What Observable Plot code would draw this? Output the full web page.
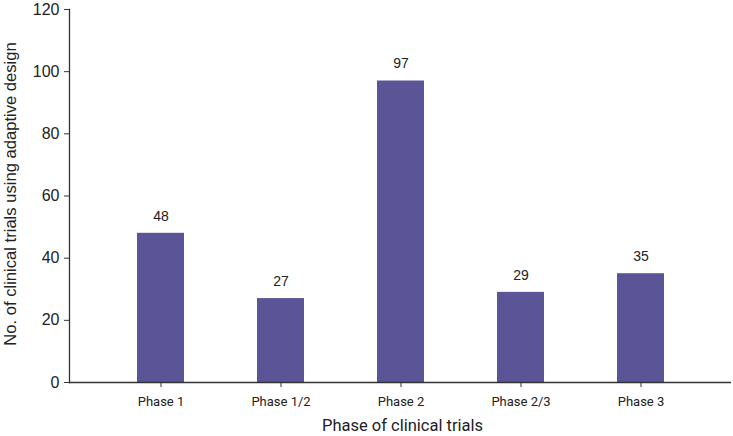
<!DOCTYPE html>
<html>
<head>
<meta charset="utf-8">
<script src="https://cdn.jsdelivr.net/npm/d3@7"></script>
<script src="https://cdn.jsdelivr.net/npm/@observablehq/plot@0.6"></script>
<style>
  html, body { margin: 0; padding: 0; background: #fff; }
  #chart svg { display: block; }
</style>
</head>
<body>
<div id="chart"></div>
<script>
const phases = ["Phase 1", "Phase 1/2", "Phase 2", "Phase 2/3", "Phase 3"];
const counts = [48, 27, 97, 29, 35];
const yTicks = [0, 20, 40, 60, 80, 100, 120];
const xTitle = "Phase of clinical trials";
const yTitle = "No. of clinical trials using adaptive design";

const data = phases.map((p, i) => ({phase: p, count: counts[i]}));

const chart = Plot.plot({
  width: 733,
  height: 436,
  marginTop: 9,
  marginBottom: 54,
  marginLeft: 69,
  marginRight: 2,
  style: {fontFamily: "Liberation Sans, Arial, sans-serif", color: "#222", background: "#fff"},
  x: {domain: phases, paddingInner: 0.61, paddingOuter: 0.56},
  y: {domain: [0, 120]},
  marks: [
    Plot.barY(data, {x: "phase", y: "count", fill: "#5b5597"}),
    Plot.text(data, {x: "phase", y: "count", text: d => String(d.count), dy: -17, fontSize: 14, fill: "#222"}),
    Plot.ruleY([0], {stroke: "#333", strokeWidth: 1.3}),
    Plot.frame({anchor: "left", stroke: "#333", strokeWidth: 1.3}),
    Plot.axisY({ticks: yTicks, tickSize: 5, tickPadding: 5, fontSize: 16, stroke: "#333", label: null}),
    Plot.axisX({tickSize: 5, tickPadding: 9, fontSize: 13, fontFamily: "Roboto, sans-serif", stroke: "#333", label: null}),
    Plot.text([yTitle], {frameAnchor: "left", textAnchor: "middle", dx: -59, dy: -2, rotate: -90, fontSize: 16.6, fill: "#222"}),
    Plot.text([xTitle], {frameAnchor: "bottom", dy: 48, dx: 2, fontSize: 16.5, fontFamily: "Roboto, sans-serif", fill: "#222"})
  ]
});
document.getElementById("chart").appendChild(chart);
</script>
</body>
</html>
